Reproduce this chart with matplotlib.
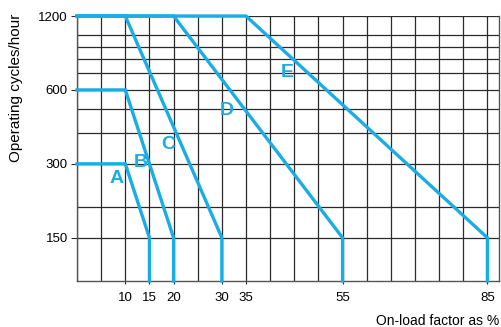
import matplotlib
matplotlib.use("Agg")
import matplotlib.pyplot as plt
from matplotlib.ticker import NullFormatter

plt.rcParams['font.family'] = ['Liberation Sans', 'DejaVu Sans']

# curves: on-load factor (%) vs operating cycles/hour
curve_names = ['A', 'B', 'C', 'D', 'E']
curve_x = [
    [0, 10, 15, 15],
    [0, 10, 20, 20],
    [0, 10, 30, 30],
    [0, 20, 55, 55],
    [0, 35, 85, 85],
]
curve_y = [
    [300, 300, 150, 100],
    [600, 600, 150, 100],
    [1200, 1200, 150, 100],
    [1200, 1200, 150, 100],
    [1200, 1200, 150, 100],
]
# where the letters sit (x %, cycles/hour)
label_pos = [(8.1, 262), (13.1, 305), (18.9, 358), (31.1, 497), (43.5, 705)]

x_ticks = [10, 15, 20, 30, 35, 55, 85]
x_minor = [0, 5, 25, 40, 45, 50, 60, 65, 70, 75, 80]
y_ticks = [150, 300, 600, 1200]
y_minor = [200, 400, 500, 700, 800, 900, 1000]

blue = '#1AADE4'
gridc = '#2a2a2a'

fig = plt.figure(figsize=(5.01, 3.27), dpi=100)
ax = fig.add_axes([0.1537, 0.1407, 0.8423, 0.8103])

ax.set_yscale('log')
ax.set_xlim(0, 87.4)
ax.set_ylim(100, 1200)

ax.set_xticks(x_ticks)
ax.set_xticks(x_minor, minor=True)
ax.set_yticks(y_ticks)
ax.set_yticklabels([str(v) for v in y_ticks])
ax.set_yticks(y_minor, minor=True)
ax.yaxis.set_minor_formatter(NullFormatter())
ax.xaxis.set_minor_formatter(NullFormatter())

ax.grid(True, which='both', color=gridc, linewidth=0.9)
ax.set_axisbelow(True)
ax.tick_params(which='major', width=0.8, color=gridc, labelsize=9.5)
ax.tick_params(axis='y', which='major', length=4, pad=2.5)
ax.tick_params(axis='x', which='major', length=2, pad=6)
ax.tick_params(which='minor', length=0)

for s in ['left', 'bottom', 'right']:
    ax.spines[s].set_color('#555555')
    ax.spines[s].set_linewidth(1.0)
ax.spines['top'].set_visible(False)

for xs, ys in zip(curve_x, curve_y):
    ax.plot(xs, ys, color=blue, linewidth=2.4, solid_joinstyle='miter', clip_on=False, zorder=3)

for name, (lx, ly) in zip(curve_names, label_pos):
    ax.text(lx, ly, name, color=blue, fontsize=14, fontweight='bold',
            ha='center', va='center', zorder=4)

ax.set_ylabel('Operating cycles/hour', fontsize=11)
ax.yaxis.set_label_coords(-0.128, 0.73)
ax.text(1.0, -0.125, 'On-load factor as %', transform=ax.transAxes,
        ha='right', va='top', fontsize=10)

fig.savefig('out.png', dpi=100)
